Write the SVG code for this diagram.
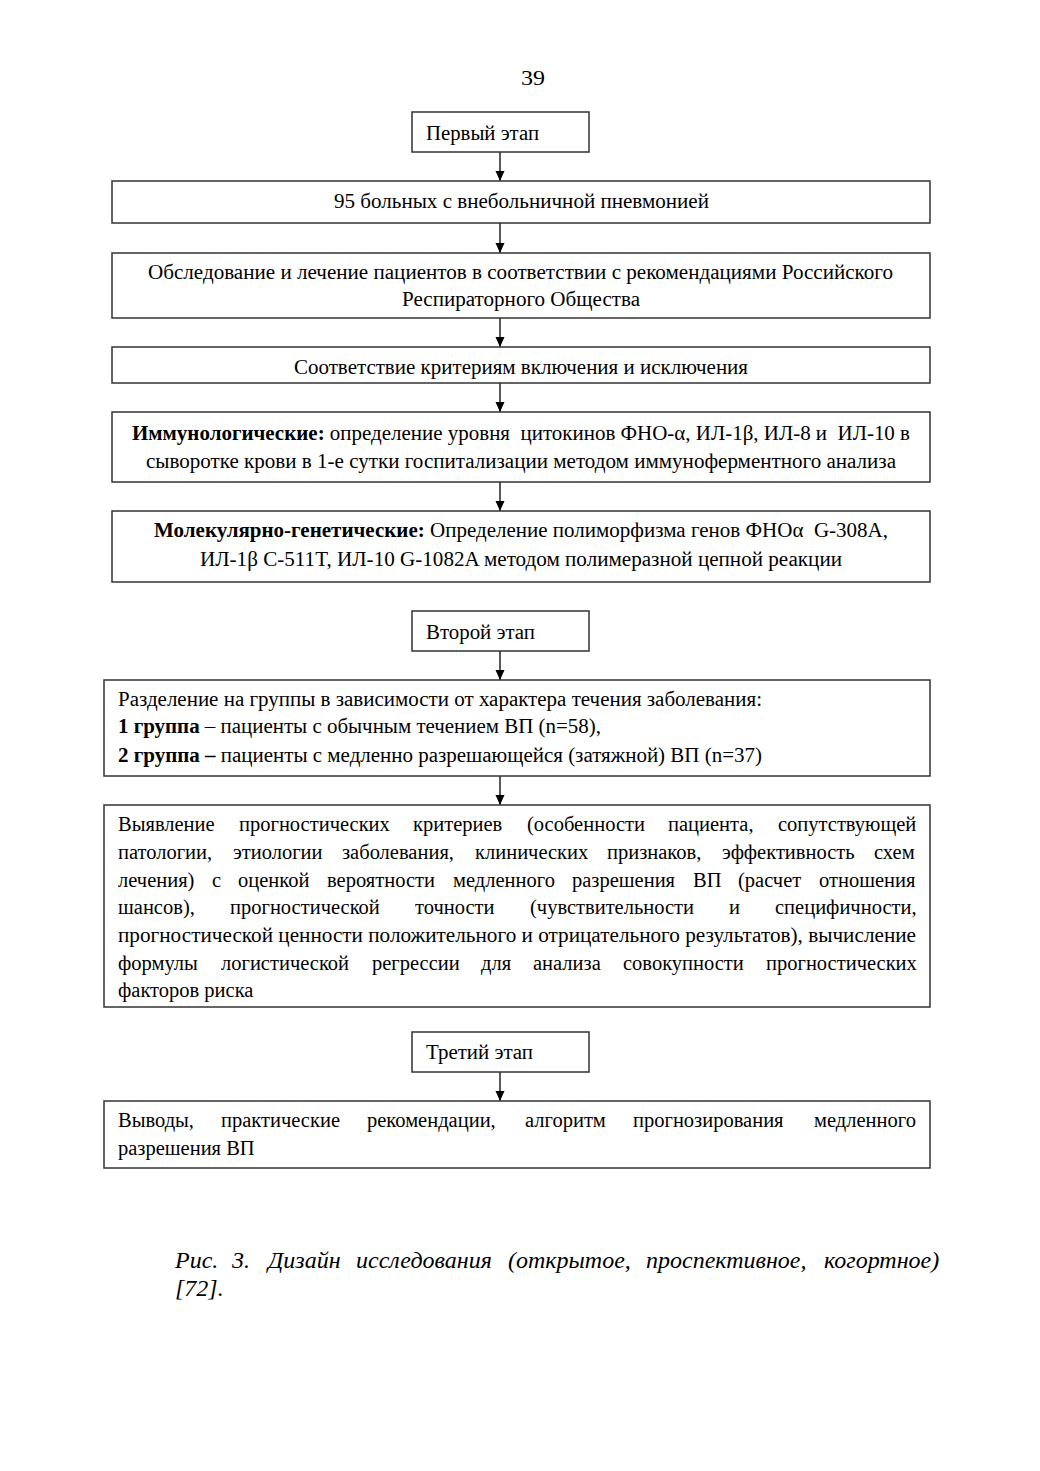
<svg xmlns="http://www.w3.org/2000/svg" width="1040" height="1471" viewBox="0 0 1040 1471">
<style>
text{font-family:"Liberation Serif","Times New Roman",serif;font-size:20.5px;fill:#000}
.b{font-weight:bold}
.box{fill:#fff;stroke:#333;stroke-width:1.5}
.c{stroke:#000;stroke-width:1.3;fill:none}
.cap{font-style:italic;font-size:24px}
</style>
<defs>
<marker id="ah" viewBox="0 0 10 10" refX="10" refY="5" markerWidth="10" markerHeight="10" markerUnits="userSpaceOnUse" orient="auto">
<path d="M0,0.5 L10,5 L0,9.5 z" fill="#000"/>
</marker>
</defs>
<rect width="1040" height="1471" fill="#fff"/>
<text x="521" y="85" textLength="24" lengthAdjust="spacingAndGlyphs">39</text>

<g id="connectors">
<line class="c" x1="500" y1="152" x2="500" y2="181" marker-end="url(#ah)"/>
<line class="c" x1="500" y1="223" x2="500" y2="253" marker-end="url(#ah)"/>
<line class="c" x1="500" y1="318" x2="500" y2="347" marker-end="url(#ah)"/>
<line class="c" x1="500" y1="383" x2="500" y2="412" marker-end="url(#ah)"/>
<line class="c" x1="500" y1="482" x2="500" y2="511" marker-end="url(#ah)"/>
<line class="c" x1="500" y1="651" x2="500" y2="680" marker-end="url(#ah)"/>
<line class="c" x1="500" y1="776" x2="500" y2="805" marker-end="url(#ah)"/>
<line class="c" x1="500" y1="1072" x2="500" y2="1101" marker-end="url(#ah)"/>
</g>

<g id="stage1">
<rect class="box" x="412" y="112" width="177" height="40"/>
<text x="426" y="140" textLength="113" lengthAdjust="spacingAndGlyphs">Первый этап</text>
</g>
<g id="patients">
<rect class="box" x="112" y="181" width="818" height="42"/>
<text x="334" y="208" textLength="375" lengthAdjust="spacingAndGlyphs">95 больных с внебольничной пневмонией</text>
</g>
<g id="exam">
<rect class="box" x="112" y="253" width="818" height="65"/>
<text x="148" y="279" textLength="745" lengthAdjust="spacingAndGlyphs">Обследование и лечение пациентов в соответствии с рекомендациями Российского</text>
<text x="402" y="306" textLength="238" lengthAdjust="spacingAndGlyphs">Респираторного Общества</text>
</g>
<g id="criteria">
<rect class="box" x="112" y="347" width="818" height="36"/>
<text x="294" y="374" textLength="454" lengthAdjust="spacingAndGlyphs">Соответствие критериям включения и исключения</text>
</g>
<g id="immuno">
<rect class="box" x="112" y="412" width="818" height="70"/>
<text x="132" y="440" textLength="778" lengthAdjust="spacingAndGlyphs" xml:space="preserve"><tspan class="b">Иммунологические:</tspan> определение уровня  цитокинов ФНО-α, ИЛ-1β, ИЛ-8 и  ИЛ-10 в</text>
<text x="146" y="468" textLength="750" lengthAdjust="spacingAndGlyphs">сыворотке крови в 1-е сутки госпитализации методом иммуноферментного анализа</text>
</g>
<g id="genetic">
<rect class="box" x="112" y="511" width="818" height="71"/>
<text x="154" y="537" textLength="734" lengthAdjust="spacingAndGlyphs" xml:space="preserve"><tspan class="b">Молекулярно-генетические:</tspan> Определение полиморфизма генов ФНОα  G-308A,</text>
<text x="200" y="566" textLength="642" lengthAdjust="spacingAndGlyphs">ИЛ-1β C-511T, ИЛ-10 G-1082A методом полимеразной цепной реакции</text>
</g>

<g id="stage2">
<rect class="box" x="412" y="611" width="177" height="40"/>
<text x="426" y="639" textLength="109" lengthAdjust="spacingAndGlyphs">Второй этап</text>
</g>
<g id="groups">
<rect class="box" x="104" y="680" width="826" height="96"/>
<text x="118" y="706" textLength="644" lengthAdjust="spacingAndGlyphs">Разделение на группы в зависимости от характера течения заболевания:</text>
<text x="118" y="733" textLength="483" lengthAdjust="spacingAndGlyphs"><tspan class="b">1 группа</tspan> – пациенты с обычным течением ВП (n=58),</text>
<text x="118" y="762" textLength="644" lengthAdjust="spacingAndGlyphs"><tspan class="b">2 группа –</tspan> пациенты с медленно разрешающейся (затяжной) ВП (n=37)</text>
</g>
<g id="prognosis">
<rect class="box" x="104" y="805" width="826" height="202"/>
<text y="831"><tspan x="118">Выявление</tspan><tspan x="239">прогностических</tspan><tspan x="413">критериев</tspan><tspan x="527">(особенности</tspan><tspan x="668">пациента,</tspan><tspan x="778">сопутствующей</tspan></text>
<text y="859"><tspan x="118">патологии,</tspan><tspan x="233">этиологии</tspan><tspan x="342">заболевания,</tspan><tspan x="475">клинических</tspan><tspan x="607">признаков,</tspan><tspan x="722">эффективность</tspan><tspan x="874">схем</tspan></text>
<text y="887"><tspan x="118">лечения)</tspan><tspan x="212">с</tspan><tspan x="238">оценкой</tspan><tspan x="327">вероятности</tspan><tspan x="453">медленного</tspan><tspan x="572">разрешения</tspan><tspan x="693">ВП</tspan><tspan x="738">(расчет</tspan><tspan x="819">отношения</tspan></text>
<text y="914"><tspan x="118">шансов),</tspan><tspan x="230">прогностической</tspan><tspan x="415">точности</tspan><tspan x="530">(чувствительности</tspan><tspan x="729">и</tspan><tspan x="775">специфичности,</tspan></text>
<text x="118" y="942" textLength="798" lengthAdjust="spacingAndGlyphs">прогностической ценности положительного и отрицательного результатов), вычисление</text>
<text y="970"><tspan x="118">формулы</tspan><tspan x="221">логистической</tspan><tspan x="372">регрессии</tspan><tspan x="481">для</tspan><tspan x="533">анализа</tspan><tspan x="623">совокупности</tspan><tspan x="766">прогностических</tspan></text>
<text x="118" y="997">факторов риска</text>
</g>

<g id="stage3">
<rect class="box" x="412" y="1032" width="177" height="40"/>
<text x="426" y="1059" textLength="107" lengthAdjust="spacingAndGlyphs">Третий этап</text>
</g>
<g id="conclusions">
<rect class="box" x="104" y="1101" width="826" height="67"/>
<text y="1127"><tspan x="118">Выводы,</tspan><tspan x="221">практические</tspan><tspan x="367">рекомендации,</tspan><tspan x="525">алгоритм</tspan><tspan x="633">прогнозирования</tspan><tspan x="814">медленного</tspan></text>
<text x="118" y="1155">разрешения ВП</text>
</g>

<text class="cap" y="1268"><tspan x="175">Рис.</tspan><tspan x="232">3.</tspan><tspan x="268">Дизайн</tspan><tspan x="356">исследования</tspan><tspan x="508">(открытое,</tspan><tspan x="646">проспективное,</tspan><tspan x="824">когортное)</tspan></text>
<text class="cap" x="175" y="1296">[72].</text>
</svg>
